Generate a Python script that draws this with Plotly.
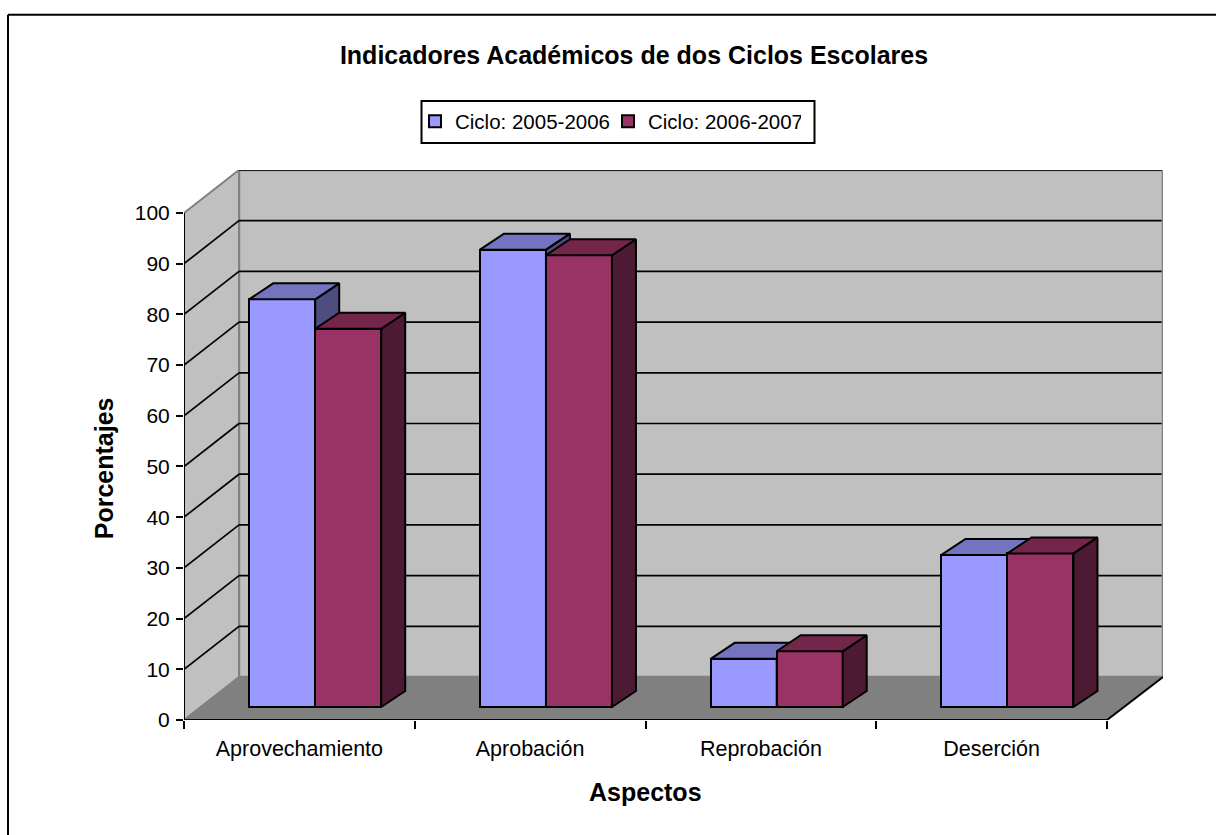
import plotly.graph_objects as go

categories = ["Aprovechamiento", "Aprobación", "Reprobación", "Deserción"]
series_names = ["Ciclo: 2005-2006", "Ciclo: 2006-2007"]
values_a = [80.4, 90.2, 9.5, 30.0]
values_b = [74.6, 89.1, 11.0, 30.3]
y_ticks = [0, 10, 20, 30, 40, 50, 60, 70, 80, 90, 100]
x_ticks = [0, 1, 2, 3, 4]

FRONT = ["#9999FF", "#993366"]
TOP = ["#7373BF", "#732649"]
SIDE = ["#4D4D80", "#4D1A33"]
FONT = "Liberation Sans, Arial, sans-serif"

W, H = 1216, 835
L, R, T, B = 184, 1163, 169.5, 720
PX_X = 230.75          # pixels per category
PX_Y = 5.075           # pixels per percent
xmax = (R - L) / PX_X
ymax = (B - T) / PX_Y
WALL_DX, WALL_DY = 55 / PX_X, 43 / PX_Y
BAR_DX, BAR_DY = 24 / PX_X, 16 / PX_Y
BASE = 13 / PX_Y
OFFSET = 65.2 / PX_X
BAR_W = 66 / PX_X
EDGE = 2
GRID = 1.7


def px(x):
    return (x - L) / (R - L)


def py(y):
    return (B - y) / (B - T)


fig = go.Figure()


def add_series(i, vals, xa, ya):
    xs = [j + OFFSET + i * BAR_W for j in range(len(vals))]
    fig.add_trace(go.Bar(
        x=[x + BAR_W / 2 for x in xs], y=vals, base=[BASE] * len(vals), width=BAR_W,
        name=series_names[i], marker=dict(color=FRONT[i], line=dict(color="black", width=EDGE)),
        xaxis=xa, yaxis=ya, hoverinfo="skip"))
    for x, v in zip(xs, vals):
        y = BASE + v
        fig.add_trace(go.Scatter(
            x=[x + BAR_W, x + BAR_W + BAR_DX, x + BAR_W + BAR_DX, x + BAR_W, x + BAR_W],
            y=[BASE, BASE + BAR_DY, y + BAR_DY, y, BASE],
            fill="toself", fillcolor=SIDE[i], mode="lines", line=dict(color="black", width=EDGE),
            showlegend=False, xaxis=xa, yaxis=ya, hoverinfo="skip"))
        fig.add_trace(go.Scatter(
            x=[x, x + BAR_DX, x + BAR_W + BAR_DX, x + BAR_W, x],
            y=[y, y + BAR_DY, y + BAR_DY, y, y],
            fill="toself", fillcolor=TOP[i], mode="lines", line=dict(color="black", width=EDGE),
            showlegend=False, xaxis=xa, yaxis=ya, hoverinfo="skip"))


add_series(0, values_a, "x", "y")
add_series(1, values_b, "x2", "y2")

# front axis lines (unclipped so they sit on the plot edge)
fig.add_trace(go.Scatter(x=[0, 0, x_ticks[-1]], y=[y_ticks[-1], 0, 0], mode="lines",
                         line=dict(color="black", width=2), cliponaxis=False,
                         showlegend=False, hoverinfo="skip"))

shapes = [
    # back wall
    dict(type="rect", x0=WALL_DX, x1=xmax, y0=WALL_DY, y1=ymax, fillcolor="#C0C0C0",
         line=dict(color="#808080", width=2.5), layer="below"),
    # side wall
    dict(type="path", path=f"M0,0 L{WALL_DX},{WALL_DY} L{WALL_DX},{ymax} L0,{y_ticks[-1]} Z",
         fillcolor="#C0C0C0", line=dict(color="#808080", width=2), layer="below"),
    # floor
    dict(type="path", path=f"M0,0 L{WALL_DX},{WALL_DY} L{xmax},{WALL_DY} L{x_ticks[-1]},0 Z",
         fillcolor="#808080", line=dict(color="#808080", width=1), layer="below"),
    dict(type="line", x0=x_ticks[-1], y0=0, x1=xmax, y1=WALL_DY,
         line=dict(color="black", width=EDGE), layer="below"),
    # chart frame
    dict(type="line", xref="paper", yref="paper", x0=px(8), x1=px(W), y0=py(14), y1=py(14),
         line=dict(color="black", width=2)),
    dict(type="line", xref="paper", yref="paper", x0=px(8), x1=px(8), y0=py(14), y1=py(H),
         line=dict(color="black", width=2)),
    # legend box
    dict(type="rect", xref="paper", yref="paper", x0=px(421.5), x1=px(814.5), y0=py(100.5), y1=py(142.5),
         fillcolor="white", line=dict(color="black", width=2)),
]
for t in y_ticks[1:-1]:
    shapes.append(dict(type="line", x0=0, y0=t, x1=WALL_DX, y1=t + WALL_DY,
                       line=dict(color="black", width=GRID), layer="below"))
for t in y_ticks[1:]:
    shapes.append(dict(type="line", x0=WALL_DX, y0=t + WALL_DY, x1=xmax - 0.006, y1=t + WALL_DY,
                       line=dict(color="black", width=GRID), layer="below"))

fig.update_layout(
    width=W, height=H, autosize=False,
    margin=dict(l=L, r=W - R, t=T, b=H - B, pad=0, autoexpand=False),
    paper_bgcolor="white", plot_bgcolor="white",
    font=dict(family=FONT, size=21, color="black"),
    barmode="overlay", bargap=0,
    title=dict(text="<b>Indicadores Académicos de dos Ciclos Escolares</b>", font=dict(size=25),
               xref="paper", x=px(634), xanchor="center", yref="container", y=1 - 55 / H, yanchor="middle"),
    legend=dict(orientation="h", xref="paper", yref="paper", x=px(415), y=py(121), xanchor="left",
                yanchor="middle", borderwidth=0, bgcolor="rgba(0,0,0,0)", entrywidth=148,
                font=dict(size=20.5), traceorder="normal"),
    xaxis=dict(range=[0, xmax], tickmode="array", tickvals=x_ticks, ticktext=[""] * len(x_ticks),
               ticks="outside", ticklen=8, tickwidth=2, tickcolor="black",
               showgrid=False, zeroline=False, showline=False),
    xaxis2=dict(range=[0, xmax], overlaying="x", anchor="y2", side="bottom", tickmode="array",
                tickvals=[j + 0.5 for j in range(len(categories))], ticktext=categories,
                ticks="outside", ticklen=9, tickcolor="rgba(0,0,0,0)", tickfont=dict(size=21.5),
                showgrid=False, zeroline=False, showline=False),
    yaxis=dict(range=[0, ymax], tickmode="array", tickvals=y_ticks, ticks="outside", ticklen=7,
               tickwidth=2, tickcolor="black", tickfont=dict(size=21), ticklabelstandoff=2,
               showgrid=False, zeroline=False, showline=False),
    yaxis2=dict(range=[0, ymax], overlaying="y", anchor="x2", visible=False),
    shapes=shapes,
    annotations=[
        dict(text="<b>Porcentajes</b>", xref="paper", yref="paper", x=px(104), y=py(468), textangle=-90,
             showarrow=False, font=dict(size=25), xanchor="center", yanchor="middle"),
        dict(text="<b>Aspectos</b>", xref="paper", yref="paper", x=px(645), y=py(792),
             showarrow=False, font=dict(size=25), xanchor="center", yanchor="middle"),
    ],
)

fig.write_html("out.html", config={"displayModeBar": False},
               post_script="document.body.style.margin='0';")
